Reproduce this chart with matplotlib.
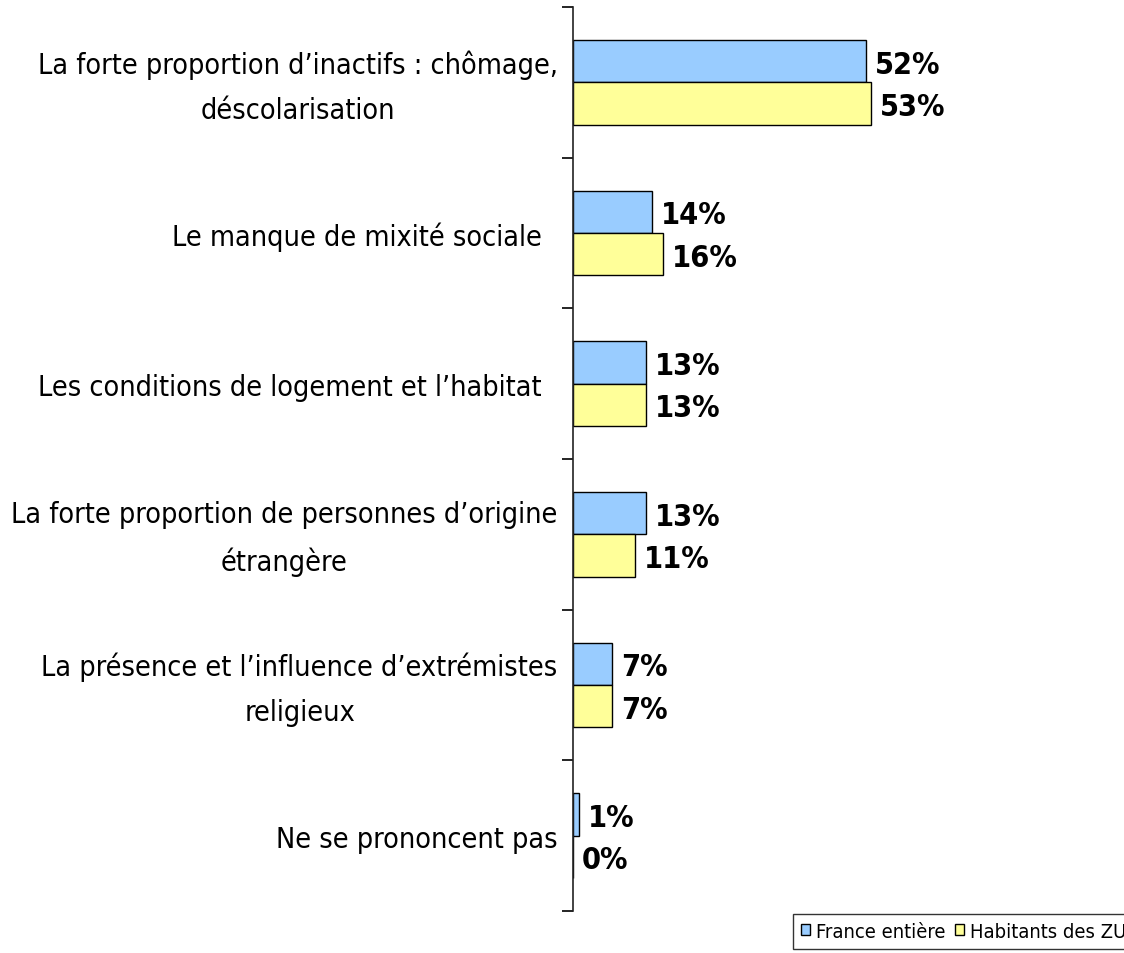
import matplotlib
matplotlib.use("Agg")
import matplotlib.pyplot as plt
import matplotlib.transforms as mtransforms
import numpy as np
from matplotlib.patches import Patch

categories = [
    "La forte proportion d\u2019inactifs : chômage,\ndéscolarisation",
    "Le manque de mixité sociale  ",
    "Les conditions de logement et l\u2019habitat  ",
    "La forte proportion de personnes d\u2019origine\nétrangère",
    "La présence et l\u2019influence d\u2019extrémistes\nreligieux",
    "Ne se prononcent pas",
]
france = [52, 14, 13, 13, 7, 1]
zus = [53, 16, 13, 11, 7, 0]
series_names = ["France entière", "Habitants des ZUS"]
colors = ["#99CCFF", "#FFFF99"]

plt.rcParams['font.family'] = ['DejaVu Sans']

fig = plt.figure(figsize=(11.24, 9.54), dpi=100)
ax = fig.add_axes([573/1124, 1-912/954, 1-573/1124, (912-8)/954])

n = len(categories)
y = np.arange(n)
h = 0.28
ax.barh(y - h/2, france, height=h, color=colors[0], edgecolor="black", linewidth=1)
ax.barh(y + h/2, zus, height=h, color=colors[1], edgecolor="black", linewidth=1)

ax.set_xlim(0, (1124-573)/5.63)
ax.set_ylim(n - 0.5, -0.5)

for i in range(n):
    ax.text(france[i] + 1.6, y[i] - h/2 + 0.02, f"{france[i]}%", va="center", ha="left",
            fontsize=22, fontweight="bold", fontstretch="condensed")
    ax.text(zus[i] + 1.6, y[i] + h/2 + 0.02, f"{zus[i]}%", va="center", ha="left",
            fontsize=22, fontweight="bold", fontstretch="condensed")

ax.set_yticks(np.arange(n + 1) - 0.5)
ax.set_yticklabels([])
ax.set_yticks(y, minor=True)
ax.set_yticklabels(categories, minor=True, fontsize=20.6, fontstretch="condensed",
                   ha="right", linespacing=1.78)
ax.tick_params(axis="y", which="major", length=8, width=1.2, direction="out")
ax.tick_params(axis="y", which="minor", length=0, pad=11)
shift = mtransforms.ScaledTranslation(0, -4/100, fig.dpi_scale_trans)
for lab in ax.get_yticklabels(minor=True):
    lab.set_horizontalalignment("right")
    lab.set_multialignment("center")
    if "\n" in lab.get_text():
        lab.set_verticalalignment("center")
        lab.set_transform(lab.get_transform() + shift)

ax.set_xticks([])
for s in ["top", "right", "bottom"]:
    ax.spines[s].set_visible(False)
ax.spines["left"].set_linewidth(1.2)
ax.spines["left"].set_color("#222222")

handles = [Patch(facecolor=colors[0], edgecolor="black"),
           Patch(facecolor=colors[1], edgecolor="black")]
leg = fig.legend(handles, series_names, loc="lower left",
                 bbox_to_anchor=(793/1124, 4/954), ncol=2, fontsize=14.5,
                 frameon=True, fancybox=False, edgecolor="black",
                 handlelength=0.45, handleheight=0.45, handletextpad=0.3,
                 columnspacing=0.45, borderpad=0.4, borderaxespad=0)
leg.get_frame().set_linewidth(1)
for t in leg.get_texts():
    t.set_fontstretch("condensed")

fig.savefig("out.png", dpi=100)
